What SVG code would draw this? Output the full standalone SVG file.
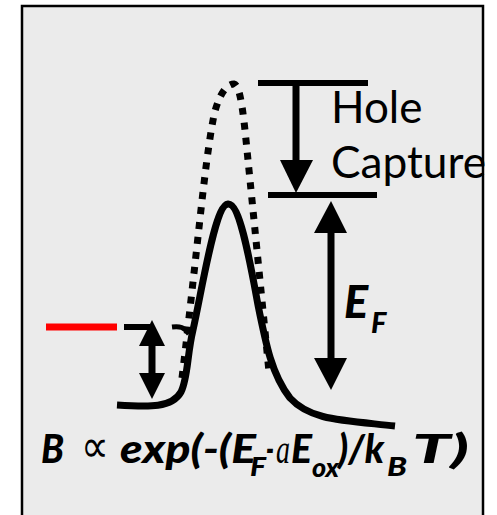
<svg xmlns="http://www.w3.org/2000/svg" width="497" height="515" viewBox="0 0 497 515">
<style>
.ln{stroke:#000;stroke-width:6;fill:none}
.shaft{stroke:#000;stroke-width:7;fill:none}
.head{fill:#000}
.txt{font-family:Lato,"Open Sans","Liberation Sans",sans-serif;fill:#000}
.bi{font-weight:900;font-style:italic}
.f{font-size:40px}
.s{font-size:27px}
</style>
<rect x="0" y="0" width="497" height="515" fill="#fff"/>
<g id="frame"><rect x="22" y="6" width="461" height="530" fill="#ebebeb" stroke="#000" stroke-width="2.5"/></g>
<g id="connectors">
  <path class="ln" d="M258,83 H368"/>
  <path class="ln" d="M268,195 H377"/>
  <path class="shaft" d="M296,86 V165"/>
  <polygon class="head" points="280,160 313,160 296,193"/>
  <path class="shaft" d="M331,228 V363"/>
  <polygon class="head" points="314,233 347,233 331,201"/>
  <polygon class="head" points="314,358 347,358 331,390"/>
  <path class="ln" d="M124,327 H150"/>
  <path class="shaft" d="M152,340 V378"/>
  <polygon class="head" points="139,346 165,346 152,320"/>
  <polygon class="head" points="139,373 165,373 152,399"/>
</g>
<g id="red-level"><path d="M46,327 H117" stroke="#ff0000" stroke-width="7" fill="none"/></g>
<g id="barrier-dotted">
  <path d="M182,378 C186,345 191,300 196,255 C201,210 207,150 214,115 C219,95 226,84 234,84 C241,85 244,120 248,160 C253,210 260,280 269,372" fill="none" stroke="#000" stroke-width="7" stroke-dasharray="7,8"/>
  <path d="M172,327 C180,326 184,327 189,334" fill="none" stroke="#000" stroke-width="5"/>
</g>
<g id="barrier-solid">
  <path d="M117,405 C150,407 172,408 181,392 C188,378 187,355 193,330 C203,285 215,205 228,204 C240,203 250,262 258,305 C266,345 272,375 290,398 C310,420 340,420 395,426" fill="none" stroke="#000" stroke-width="7"/>
</g>
<g id="label-hole">
  <text class="txt" x="331" y="123" font-size="44">Hole</text>
  <text class="txt" x="331" y="178" font-size="44" textLength="155" lengthAdjust="spacingAndGlyphs">Capture</text>
</g>
<g id="label-ef">
  <text class="txt bi" x="344" y="318" font-size="45">E<tspan x="371" y="333" font-size="29">F</tspan></text>
</g>
<g id="formula">
  <text class="txt bi f" x="41" y="463"><tspan x="41" y="463" textLength="23" lengthAdjust="spacingAndGlyphs">B</tspan><tspan x="81" y="462" font-size="46" font-weight="normal" font-style="normal" textLength="28" lengthAdjust="spacingAndGlyphs">∝</tspan><tspan x="120" y="463" textLength="136" lengthAdjust="spacingAndGlyphs">exp(-(E</tspan><tspan x="250" y="476" font-size="27" textLength="16" lengthAdjust="spacingAndGlyphs">F</tspan><tspan x="266" y="463" textLength="8" lengthAdjust="spacingAndGlyphs">-</tspan><tspan x="276" y="463" font-size="42" font-weight="normal" font-family="'Liberation Serif',serif" textLength="14" lengthAdjust="spacingAndGlyphs">a</tspan><tspan x="291" y="463" textLength="21" lengthAdjust="spacingAndGlyphs">E</tspan><tspan x="312" y="477" font-size="27" textLength="27" lengthAdjust="spacingAndGlyphs">ox</tspan><tspan x="338" y="463" textLength="46" lengthAdjust="spacingAndGlyphs">)/k</tspan><tspan x="387" y="476" font-size="27" textLength="20" lengthAdjust="spacingAndGlyphs">B</tspan><tspan x="412" y="463" textLength="57" lengthAdjust="spacingAndGlyphs">T)</tspan></text>
</g>
</svg>
